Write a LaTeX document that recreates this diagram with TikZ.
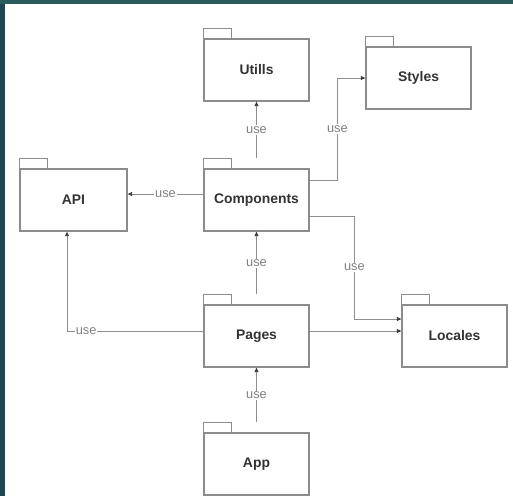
\documentclass[tikz,border=0pt]{standalone}
\usepackage{fontspec}
\setmainfont{Liberation Sans}
\usetikzlibrary{arrows.meta,calc}
\definecolor{boxgray}{HTML}{8C8C8C}
\definecolor{edgegray}{HTML}{8E8E8E}
\definecolor{tipgray}{HTML}{3C3C3C}
\definecolor{nametxt}{HTML}{333333}
\definecolor{lbltxt}{HTML}{808080}
\definecolor{leftband}{HTML}{1E4652}
\definecolor{topband}{HTML}{2A5C5E}
\begin{document}
\begin{tikzpicture}[x=1pt,y=-1pt,
  pkg/.style={draw=boxgray, line width=1.3pt, fill=white, minimum width=105pt,
    minimum height=62pt, inner sep=0pt, text=nametxt,
    font=\fontsize{13.9}{16}\selectfont\bfseries},
  pkgtab/.style={draw=boxgray, line width=1.3pt},
  usedep/.style={draw=edgegray, line width=0.9pt,
    -{Triangle[length=4.5pt,width=4pt,color=tipgray,fill=tipgray]}},
  lbl/.style={fill=white, inner sep=1pt, text=lbltxt,
    font=\fontsize{12.8}{14}\selectfont}]
% canvas and the two dark bands
\useasboundingbox (0,0) rectangle (513,496);
\fill[white] (0,0) rectangle (513,496);
\fill[leftband] (0,0) rectangle (5,496);
\fill[topband] (0,0) rectangle (513,4);

% packages (body of each folder)
\node[pkg] (utils)   at (256.5,70)  {Utills};
\node[pkg] (styles)  at (418.5,78)  {Styles};
\node[pkg, minimum width=107pt] (api) at (73.5,200) {API};
\node[pkg] (comp)    at (256.5,200) {Components};
\node[pkg] (pages)   at (256.5,336) {Pages};
\node[pkg] (locales) at (454.5,336) {Locales};
\node[pkg] (app)     at (256.5,464) {App};

% folder tabs
\foreach \n in {utils,styles,api,comp,pages,locales,app}
  \draw[pkgtab] (\n.north west) rectangle ++(28,-10);

% dependencies
\draw[usedep] ([yshift=10pt]comp.north) -- (utils.south)
  node[lbl, midway] {use};
\draw[usedep] ([yshift=20pt]comp.east) -| ([xshift=-28pt]styles.west)
  node[lbl, pos=0.75] {use} -- (styles.west);
\draw[usedep] ([yshift=6pt]comp.west) -- ([yshift=6pt]api.east)
  node[lbl, midway] {use};
\draw[usedep] ([yshift=-16pt]comp.east) -| ([xshift=-47pt,yshift=17pt]locales.west)
  node[lbl, pos=0.75] {use} -- ([yshift=17pt]locales.west);
\draw[usedep] ([yshift=10pt]pages.north) -- (comp.south)
  node[lbl, midway] {use};
\draw[usedep] ([yshift=5pt]pages.east) -- ([yshift=5pt]locales.west);
\draw[usedep] ([yshift=5pt]pages.west) -| ([xshift=-6.5pt]api.south)
  node[lbl, pos=0.43] {use};
\draw[usedep] ([yshift=10pt]app.north) -- (pages.south)
  node[lbl, midway] {use};
\end{tikzpicture}
\end{document}
